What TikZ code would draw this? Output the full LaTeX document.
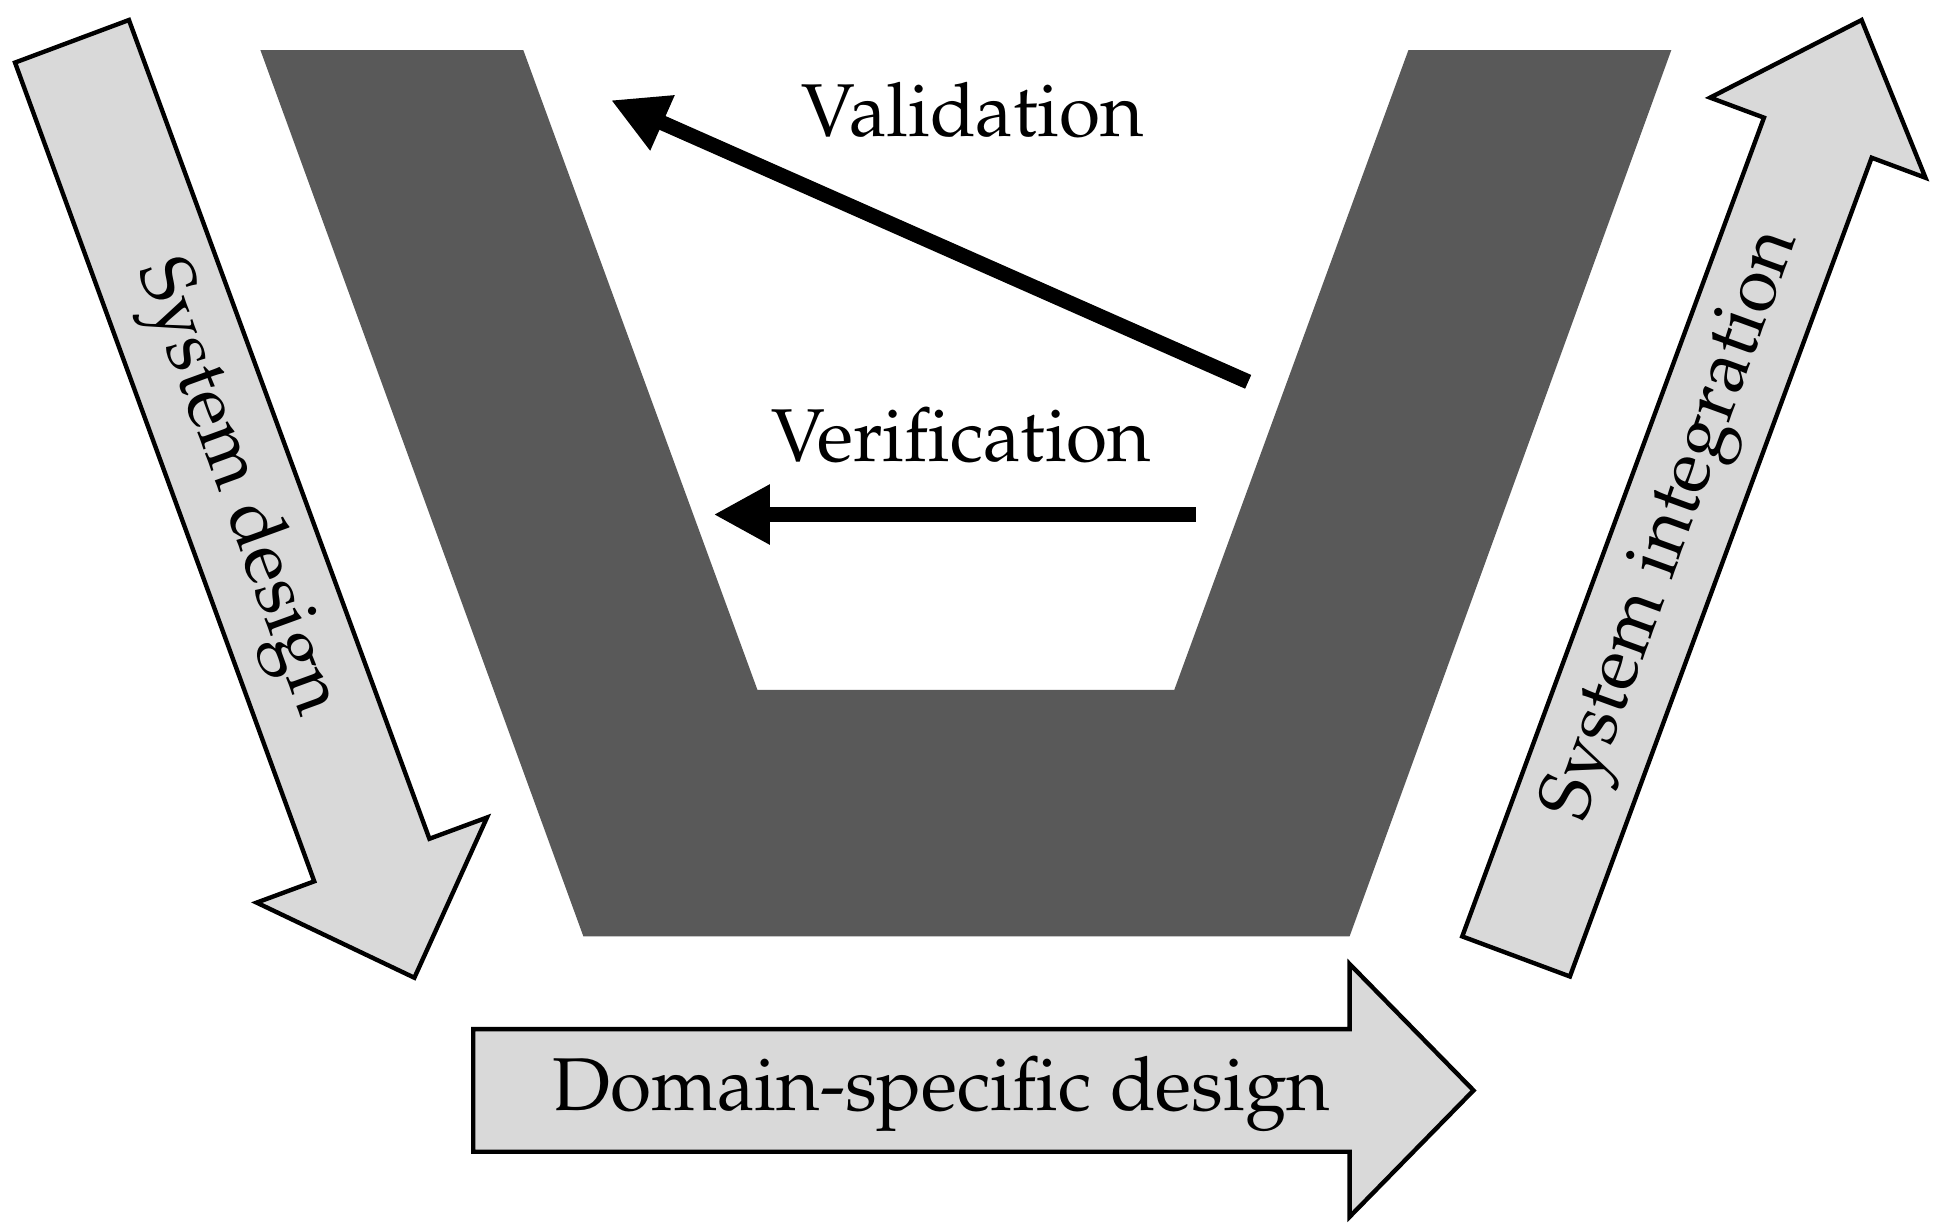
\documentclass[tikz,border=0pt]{standalone}
\usepackage[T1]{fontenc}
\renewcommand{\rmdefault}{ppl}
\usetikzlibrary{arrows.meta}
\begin{document}
\begin{tikzpicture}[x=0.01cm,y=0.01cm,
  box/.style={draw=black,line width=0.035cm,fill=black!15,line join=miter},
  lbl/.style={font=\fontsize{17}{20}\selectfont},
  arr/.style={line width=0.12cm,-{Triangle[length=0.45cm,width=0.45cm]}}]
\useasboundingbox (0,0) rectangle (1560,982);
\fill[black!65] (208,942)--(418,942)--(605,431)--(938,431)--(1125,942)--(1335,942)--(1078,234)--(466,234)--cycle;
\draw[arr] (997,677) -- (488,902);
\draw[arr] (955,571) -- (570,571);
\node[lbl] (val) at (777,894) {Validation};
\node[lbl] (ver) at (768,634) {Verification};
\draw[box] (12,932)--(103,966)--(343,312)--(389,329)--(331,201)--(205,261)--(251,278)--cycle;
\node[lbl,rotate=-70] (sd) at (188,592) {System design};
\draw[box] (1168,234)--(1254,202)--(1495,856)--(1538,840)--(1487,966)--(1366,904)--(1409,888)--cycle;
\node[lbl,rotate=70] (si) at (1338,562) {System integration};
\draw[box] (378,160)--(1078,160)--(1078,212)--(1177,111)--(1078,10)--(1078,62)--(378,62)--cycle;
\node[lbl] (dd) at (752,108) {Domain-specific design};
\end{tikzpicture}
\end{document}
